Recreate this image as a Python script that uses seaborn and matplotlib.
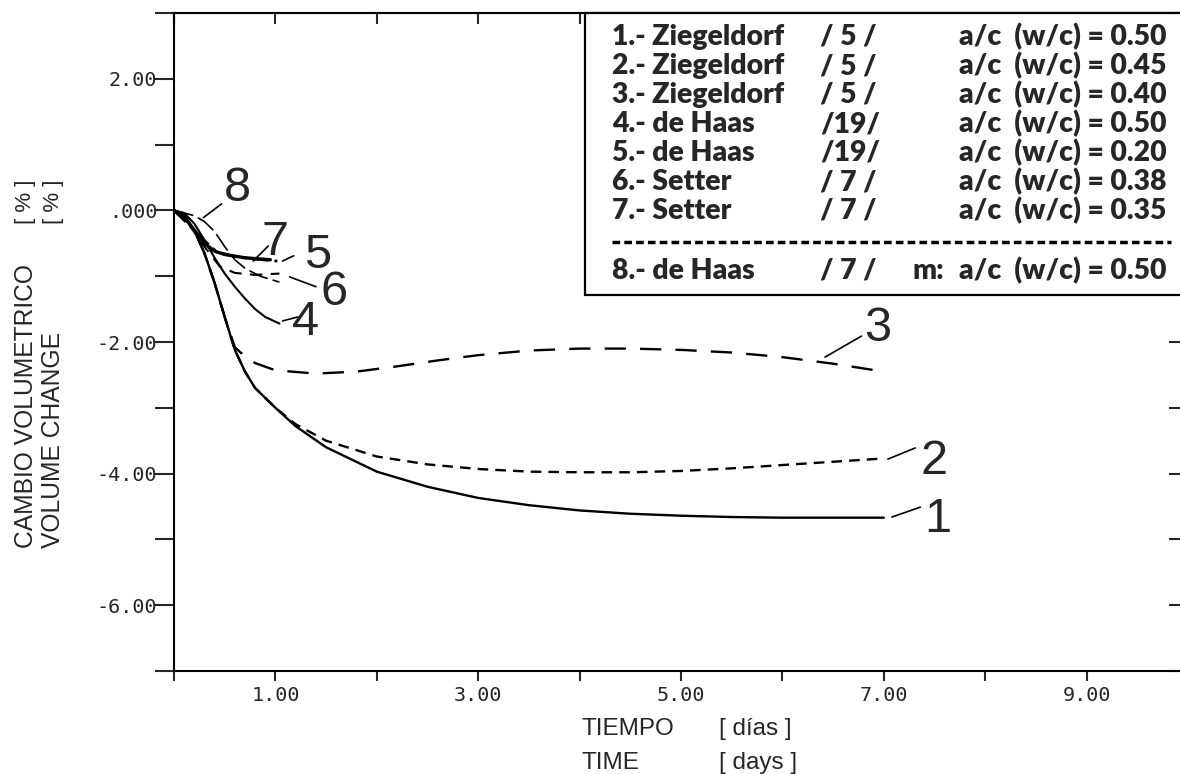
"""
Cambio volumétrico vs tiempo (retracción de pastas de cemento).
"""

import matplotlib

matplotlib.use("Agg")

import matplotlib.pyplot as plt
import pandas as pd
import seaborn as sns
from matplotlib.lines import Line2D
from matplotlib.patches import Rectangle

W, H = 1180, 774

# --- datos ----------------------------------------------------------------
curve_1_x = [0, 0.1, 0.2, 0.3, 0.4, 0.5, 0.6, 0.7, 0.8, 1.0, 1.2, 1.5, 2.0, 2.5,
             3.0, 3.5, 4.0, 4.5, 5.0, 5.5, 6.0, 6.5, 7.0]
curve_1_y = [0, -0.08, -0.3, -0.65, -1.1, -1.62, -2.12, -2.45, -2.7, -3.0, -3.28,
             -3.6, -3.97, -4.2, -4.37, -4.48, -4.56, -4.61, -4.64, -4.66, -4.67,
             -4.67, -4.67]

curve_2_x = [0, 0.1, 0.2, 0.3, 0.4, 0.5, 0.6, 0.7, 0.8, 1.0, 1.2, 1.5, 2.0, 2.5,
             3.0, 3.5, 4.0, 4.5, 5.0, 5.5, 6.0, 6.5, 7.0]
curve_2_y = [0, -0.08, -0.3, -0.65, -1.1, -1.62, -2.12, -2.45, -2.7, -3.0, -3.25,
             -3.5, -3.74, -3.86, -3.93, -3.97, -3.98, -3.98, -3.96, -3.92, -3.87,
             -3.82, -3.77]

curve_3_x = [0, 0.1, 0.2, 0.3, 0.4, 0.5, 0.6, 0.7, 0.8, 1.0, 1.4, 1.8, 2.2, 2.6,
             3.0, 3.5, 4.0, 4.5, 5.0, 5.5, 6.0, 6.5, 7.0]
curve_3_y = [0, -0.08, -0.3, -0.65, -1.1, -1.62, -2.08, -2.22, -2.32, -2.43, -2.48,
             -2.45, -2.37, -2.28, -2.2, -2.13, -2.1, -2.1, -2.12, -2.16, -2.23,
             -2.33, -2.45]

curve_4_x = [0, 0.1, 0.2, 0.3, 0.4, 0.5, 0.6, 0.7, 0.8, 0.9, 1.04]
curve_4_y = [0, -0.04, -0.2, -0.45, -0.72, -0.96, -1.16, -1.34, -1.5, -1.62, -1.72]

curve_5_x = [0, 0.16, 0.28, 0.42, 0.6, 0.8, 1.02]
curve_5_y = [0, -0.24, -0.43, -0.63, -0.7, -0.74, -0.77]

curve_6_x = [0, 0.15, 0.3, 0.45, 0.6, 0.8, 1.04]
curve_6_y = [0, -0.22, -0.55, -0.85, -0.95, -0.98, -0.96]

curve_7_x = [0, 0.1, 0.2, 0.3, 0.4, 0.5, 0.7, 0.95]
curve_7_y = [0, -0.1, -0.3, -0.5, -0.62, -0.67, -0.72, -0.75]

curve_8_x = [0, 0.2, 0.3, 0.4, 0.5, 0.6, 0.7, 0.85, 1.04]
curve_8_y = [0, -0.08, -0.17, -0.32, -0.55, -0.75, -0.88, -1.0, -1.09]

x_ticks = list(range(0, 11))
x_tick_labels = ["", "1.00", "", "3.00", "", "5.00", "", "7.00", "", "9.00", ""]
y_ticks = list(range(-7, 4))
y_tick_labels = ["", "-6.00", "", "-4.00", "", "-2.00", "", ".000", "", "2.00", ""]

legend_authors = ["1.- Ziegeldorf", "2.- Ziegeldorf", "3.- Ziegeldorf", "4.- de Haas",
                  "5.- de Haas", "6.- Setter", "7.- Setter"]
legend_refs = ["/ 5 /", "/ 5 /", "/ 5 /", "/19/", "/19/", "/ 7 /", "/ 7 /"]
legend_ratios = ["a/c  (w/c) = 0.50", "a/c  (w/c) = 0.45", "a/c  (w/c) = 0.40",
                 "a/c  (w/c) = 0.50", "a/c  (w/c) = 0.20", "a/c  (w/c) = 0.38",
                 "a/c  (w/c) = 0.35"]
legend_extra = ("8.- de Haas", "/ 7 /", "m:", "a/c  (w/c) = 0.50")

# estilo de cada curva: (x, y, ancho, linestyle)
CURVES = {
    "1": (curve_1_x, curve_1_y, 1.7, "-"),
    "2": (curve_2_x, curve_2_y, 1.7, (0, (4.5, 3))),
    "3": (curve_3_x, curve_3_y, 1.7, (0, (9, 6))),
    "4": (curve_4_x, curve_4_y, 1.5, "-"),
    "5": (curve_5_x, curve_5_y, 2.0, (0, (6, 2, 1.5, 2))),
    "6": (curve_6_x, curve_6_y, 1.5, (0, (6, 4))),
    "7": (curve_7_x, curve_7_y, 2.4, "-"),
    "8": (curve_8_x, curve_8_y, 1.2, (0, (12, 3))),
}

# etiquetas de las curvas: texto, punto de la curva, extremo de la guía, centro del número
LABELS = [
    ("8", (0.29, -0.11), (0.47, 0.10), (0.63, 0.33)),
    ("7", (0.78, -0.77), (0.93, -0.54), (1.00, -0.49)),
    ("5", (1.07, -0.77), (1.18, -0.69), (1.42, -0.68)),
    ("6", (1.14, -1.01), (1.40, -1.16), (1.58, -1.25)),
    ("4", (1.07, -1.68), (1.22, -1.62), (1.30, -1.70)),
    ("3", (6.42, -2.23), (6.78, -1.91), (6.94, -1.80)),
    ("2", (7.04, -3.78), (7.31, -3.61), (7.50, -3.81)),
    ("1", (7.08, -4.66), (7.36, -4.51), (7.53, -4.70)),
]


def fx(px):
    return px / W


def fy(py):
    return 1 - py / H


def main():
    sns.set_style("white")
    plt.rcParams["font.family"] = ["Liberation Sans", "DejaVu Sans"]

    fig = plt.figure(figsize=(W / 100, H / 100), dpi=100)
    ax = fig.add_axes([fx(174), fy(671), 1014 / W, 658 / H])

    for name, (xs, ys, lw, ls) in CURVES.items():
        df = pd.DataFrame({"t": xs, "v": ys})
        sns.lineplot(data=df, x="t", y="v", ax=ax, color="black", lw=lw,
                     linestyle=ls, sort=False, estimator=None)

    for text, p0, p1, pos in LABELS:
        ax.plot([p0[0], p1[0]], [p0[1], p1[1]], color="black", lw=1.2)
        ax.text(pos[0], pos[1], text, fontsize=35, ha="center", va="center",
                family="Liberation Sans")

    ax.set_xlim(0, 10)
    ax.set_ylim(-7, 3)
    ax.set_xlabel("")
    ax.set_ylabel("")

    for side in ["left", "bottom", "top", "right"]:
        ax.spines[side].set_linewidth(1.5)
        ax.spines[side].set_color("black")

    ax.set_xticks(x_ticks)
    ax.set_xticklabels(x_tick_labels, family="DejaVu Sans Mono", fontsize=14.5)
    ax.set_yticks(y_ticks)
    ax.set_yticklabels(y_tick_labels, family="DejaVu Sans Mono", fontsize=14.5)
    ax.tick_params(axis="x", direction="out", length=7, width=1.5, pad=4,
                   bottom=True, top=False)
    ax.tick_params(axis="y", direction="out", length=14, width=1.5, pad=-2,
                   left=True, right=False)

    top = ax.secondary_xaxis("top")
    top.set_xticks(x_ticks)
    top.set_xticklabels([])
    top.tick_params(direction="in", length=8, width=1.5)
    top.spines["top"].set_linewidth(1.5)

    right = ax.secondary_yaxis("right")
    right.set_yticks(y_ticks)
    right.set_yticklabels([])
    right.tick_params(direction="in", length=14, width=1.5)

    # títulos de los ejes
    axis_font = dict(fontsize=17.5, va="center")
    fig.text(fx(582), fy(729), "TIEMPO", **axis_font)
    fig.text(fx(719), fy(729), "[ días ]", **axis_font)
    fig.text(fx(582), fy(763), "TIME", **axis_font)
    fig.text(fx(719), fy(763), "[ days ]", **axis_font)
    fig.text(fx(26), fy(548), "CAMBIO VOLUMETRICO", fontsize=17.7, rotation=90,
             ha="center", va="bottom")
    fig.text(fx(53), fy(548), "VOLUME CHANGE", fontsize=17.7, rotation=90,
             ha="center", va="bottom")
    fig.text(fx(26), fy(202), "[ % ]", fontsize=16, rotation=90, ha="center", va="center")
    fig.text(fx(53), fy(202), "[ % ]", fontsize=16, rotation=90, ha="center", va="center")

    # cuadro de leyenda
    box = Rectangle((fx(585), fy(295)), fx(620), 282 / H, transform=fig.transFigure,
                    fill=True, facecolor="white", edgecolor="black", lw=1.6, zorder=5)
    fig.patches.append(box)

    legend_font = dict(fontsize=20.4, fontweight="heavy", family="Lato", va="center",
                       zorder=6)
    row_y = [37, 66, 95, 124, 153, 182, 211]
    for yy, author, ref, ratio in zip(row_y, legend_authors, legend_refs, legend_ratios):
        fig.text(fx(612), fy(yy), author, **legend_font)
        fig.text(fx(820), fy(yy), ref, **legend_font)
        fig.text(fx(959), fy(yy), ratio, **legend_font)

    fig.lines.append(Line2D([fx(612), fx(1171)], [fy(242), fy(242)],
                            transform=fig.transFigure, color="black", lw=2.5,
                            linestyle=(0, (2.2, 1.2)), zorder=6))
    fig.text(fx(612), fy(271), legend_extra[0], **legend_font)
    fig.text(fx(820), fy(271), legend_extra[1], **legend_font)
    fig.text(fx(913), fy(271), legend_extra[2], **legend_font)
    fig.text(fx(959), fy(271), legend_extra[3], **legend_font)

    fig.savefig("out.png", dpi=100)
    plt.close(fig)


if __name__ == "__main__":
    main()
